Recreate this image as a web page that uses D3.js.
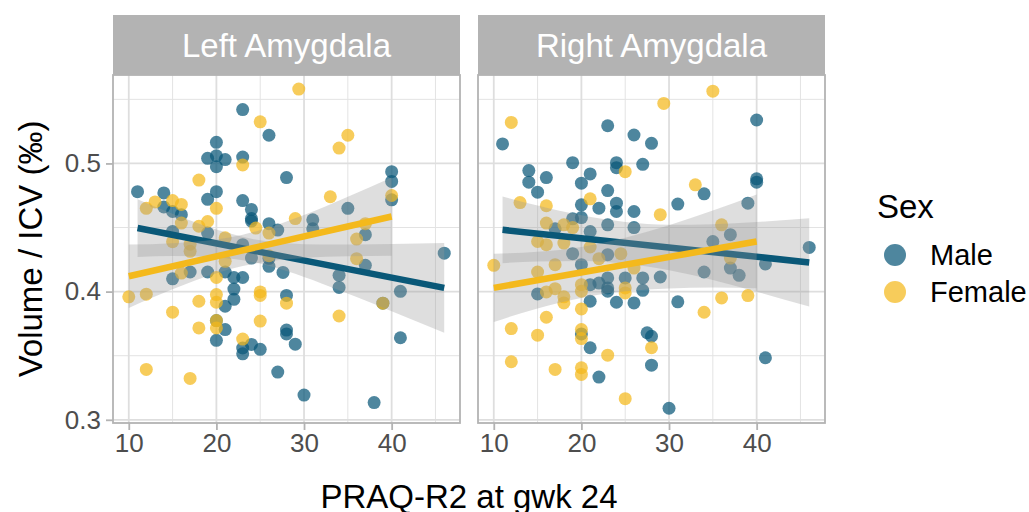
<!DOCTYPE html>
<html><head><meta charset="utf-8">
<script src="https://cdn.jsdelivr.net/npm/d3@7"></script>
<style>body{margin:0;background:#fff}svg{display:block;font-family:"Liberation Sans",Arial,sans-serif}</style>
</head><body><svg id="c" width="1029" height="512"></svg>
<script>
const panels = ["Left Amygdala", "Right Amygdala"];
const sexes = ["Male", "Female"];
const xTicks = [10, 20, 30, 40];
const xMinor = [15, 25, 35, 45];
const yTicks = [0.3, 0.4, 0.5];
const yMinor = [0.35, 0.45, 0.55];

const leftMale = [[23,0.542],[26,0.522],[20,0.5165],[19,0.504],[20,0.506],[21,0.503],[20,0.4975],[23,0.505],[28,0.489],[11,0.478],[14,0.477],[20,0.478],[19,0.472],[23,0.471],[24,0.464],[24,0.457],[24,0.455],[26,0.453],[27,0.448],[14,0.466],[15,0.4625],[16,0.460],[15,0.447],[19,0.4457],[23,0.4366],[40,0.4936],[40,0.486],[40,0.4716],[35,0.465],[31,0.456],[31,0.449],[37,0.4444],[46,0.430],[15,0.410],[17,0.4153],[19,0.4153],[21,0.4153],[22,0.411],[23,0.411],[22,0.402],[22,0.394],[21,0.3886],[20,0.3774],[21,0.3704],[20,0.362],[23,0.356],[23,0.3515],[24,0.3588],[25,0.355],[27,0.3372],[24,0.4262],[26,0.4197],[27.6,0.415],[28,0.397],[28,0.370],[28,0.367],[29,0.359],[30,0.3193],[34,0.4127],[34,0.4033],[37,0.4205],[39,0.391],[41,0.4002],[41,0.364],[38,0.3134],[26,0.426]];
const leftFemale = [[25,0.5325],[23,0.4988],[18,0.487],[13,0.470],[15,0.471],[16,0.468],[12,0.465],[20,0.465],[16,0.4535],[19,0.4547],[18,0.451],[24.5,0.4496],[26,0.4457],[15,0.439],[21,0.442],[29.4,0.558],[35,0.522],[34,0.512],[33,0.474],[29,0.457],[40,0.475],[37,0.453],[36,0.441],[10,0.3959],[12,0.398],[15,0.384],[18,0.3925],[18,0.3717],[20,0.411],[20,0.3977],[20,0.3917],[20,0.3774],[20,0.3717],[23,0.363],[25,0.3998],[25,0.397],[25,0.377],[28,0.391],[12,0.3393],[17,0.3323],[16,0.4145],[17,0.4314],[17,0.437],[21,0.4236],[26,0.428],[36,0.4257],[34,0.381],[39,0.391]];
const rightMale = [[11,0.5152],[23,0.5294],[26,0.5222],[28,0.5157],[19,0.5006],[24,0.5006],[24,0.4967],[27,0.4993],[14,0.4944],[14,0.4854],[16,0.489],[21,0.4918],[20,0.4846],[15,0.4776],[23,0.4788],[20,0.4677],[22,0.4651],[24,0.469],[24,0.4625],[26,0.4625],[19,0.4568],[20,0.4578],[23,0.4521],[26,0.450],[17,0.449],[21,0.4469],[40,0.5339],[40,0.488],[40,0.4854],[34,0.4763],[31,0.4683],[39,0.469],[35,0.4391],[37,0.4444],[46,0.4345],[15,0.3982],[19,0.4296],[20,0.421],[23,0.4288],[21,0.4054],[22,0.4067],[23,0.4107],[23,0.4029],[23,0.4003],[25,0.4107],[27,0.4107],[27,0.401],[21,0.3925],[24,0.3917],[26,0.3912],[20,0.367],[21,0.3562],[22,0.3333],[27.5,0.3679],[28,0.3652],[28,0.3426],[29,0.4114],[31,0.392],[34,0.4153],[37,0.4184],[38,0.4127],[41,0.4216],[41,0.3484],[30,0.309]];
const rightFemale = [[12,0.532],[25,0.4936],[21,0.4724],[13,0.4695],[16,0.467],[16,0.4535],[18,0.4521],[19,0.450],[15,0.4391],[16,0.4366],[18,0.4379],[21,0.4348],[29.4,0.5468],[35,0.5564],[33,0.4833],[29,0.460],[36,0.4521],[10,0.4205],[12,0.3712],[12,0.3453],[15,0.4153],[15,0.366],[17,0.421],[16,0.3998],[17,0.4023],[18,0.3959],[18,0.3912],[16,0.380],[20,0.4054],[20,0.4003],[20,0.3865],[20,0.3704],[20,0.3634],[20,0.3406],[20,0.3354],[17,0.3393],[23,0.3504],[25,0.3165],[22,0.4257],[24.5,0.4296],[26,0.4184],[25,0.4029],[25,0.399],[28,0.3562],[34,0.3839],[36,0.3951],[39,0.3969],[37,0.4262]];

const leftMaleFit = [[11,0.4496],[46,0.4029]];
const leftFemaleFit = [[10,0.412],[40,0.4586]];
const rightMaleFit = [[11,0.4482],[46,0.4228]];
const rightFemaleFit = [[10,0.4029],[40,0.4391]];

const leftMaleBand = [[11,0.4271,0.4721],[15,0.4278,0.4608],[20,0.4267,0.4485],[24,0.4233,0.4413],[28,0.4160,0.4378],[32,0.4064,0.4368],[36,0.3958,0.4368],[40,0.3847,0.4371],[46,0.3679,0.4379]];
const leftFemaleBand = [[10,0.3873,0.4367],[15,0.4018,0.4378],[20,0.4143,0.4407],[23,0.4199,0.4444],[26,0.4236,0.4500],[30,0.4262,0.4598],[35,0.4275,0.4741],[40,0.4279,0.4891]];
const rightMaleBand = [[11,0.4222,0.4742],[15,0.4235,0.4671],[20,0.4239,0.4595],[25,0.4217,0.4543],[30,0.4166,0.4522],[35,0.4090,0.4526],[40,0.3999,0.4543],[46,0.3883,0.4573]];
const rightFemaleBand = [[10,0.3763,0.4295],[15,0.3869,0.4311],[20,0.3951,0.4349],[25,0.4002,0.4420],[30,0.4025,0.4517],[35,0.4032,0.4632],[40,0.4027,0.4757]];

const colors = {Male: "#0a5878", Female: "#f4b91c"};
const panelData = [
  {name: panels[0], pts: {Male: leftMale, Female: leftFemale}, fit: {Male: leftMaleFit, Female: leftFemaleFit}, band: {Male: leftMaleBand, Female: leftFemaleBand}},
  {name: panels[1], pts: {Male: rightMale, Female: rightFemale}, fit: {Male: rightMaleFit, Female: rightFemaleFit}, band: {Male: rightMaleBand, Female: rightFemaleBand}}
];

const svg = d3.select("#c");
const pTop = 75, pBottom = 423, pw = 347;
const lefts = [113, 478];
const y = d3.scaleLinear().domain([0.2975, 0.569]).range([pBottom, pTop]);
const FONT = "Liberation Sans, Arial, sans-serif";

panelData.forEach((p, i) => {
  const x0 = lefts[i];
  const x = d3.scaleLinear().domain([8.2, 47.8]).range([x0, x0 + pw]);
  const g = svg.append("g");
  g.append("rect").attr("x", x0).attr("y", 15).attr("width", pw).attr("height", pTop - 15).attr("fill", "#b3b3b3");
  g.append("text").attr("x", x0 + pw / 2).attr("y", 45).attr("dy", "0.35em").attr("text-anchor", "middle")
    .attr("fill", "#fff").attr("font-size", 33).text(p.name);
  g.append("g").selectAll("line").data(yMinor).join("line").attr("x1", x0).attr("x2", x0 + pw).attr("y1", d => y(d)).attr("y2", d => y(d)).attr("stroke", "#e3e3e3").attr("stroke-width", 1);
  g.append("g").selectAll("line").data(xMinor).join("line").attr("y1", pTop).attr("y2", pBottom).attr("x1", d => x(d)).attr("x2", d => x(d)).attr("stroke", "#e3e3e3").attr("stroke-width", 1);
  g.append("g").selectAll("line").data(yTicks).join("line").attr("x1", x0).attr("x2", x0 + pw).attr("y1", d => y(d)).attr("y2", d => y(d)).attr("stroke", "#dedede").attr("stroke-width", 1.8);
  g.append("g").selectAll("line").data(xTicks).join("line").attr("y1", pTop).attr("y2", pBottom).attr("x1", d => x(d)).attr("x2", d => x(d)).attr("stroke", "#dedede").attr("stroke-width", 1.8);
  sexes.forEach(s => {
    g.append("g").selectAll("circle").data(p.pts[s]).join("circle")
      .attr("cx", d => x(d[0])).attr("cy", d => y(d[1])).attr("r", 6.5)
      .attr("fill", colors[s]).attr("fill-opacity", 0.72);
  });
  sexes.forEach(s => {
    const area = d3.area().x(d => x(d[0])).y0(d => y(d[1])).y1(d => y(d[2])).curve(d3.curveMonotoneX);
    g.append("path").attr("d", area(p.band[s])).attr("fill", "#999999").attr("fill-opacity", 0.32);
    const line = d3.line().x(d => x(d[0])).y(d => y(d[1]));
    g.append("path").attr("d", line(p.fit[s])).attr("stroke", colors[s]).attr("stroke-width", 6.5).attr("fill", "none");
  });
  g.append("rect").attr("x", x0).attr("y", pTop).attr("width", pw).attr("height", pBottom - pTop)
    .attr("fill", "none").attr("stroke", "#b3b3b3").attr("stroke-width", 1.8);
  const ax = g.append("g").attr("transform", `translate(0,${pBottom})`)
    .call(d3.axisBottom(x).tickValues(xTicks).tickSize(7).tickPadding(4).tickFormat(d3.format("d")));
  ax.select(".domain").remove();
  ax.selectAll("line").attr("stroke", "#b3b3b3").attr("stroke-width", 1.8);
  ax.selectAll("text").attr("fill", "#4d4d4d").attr("font-size", 26).attr("font-family", FONT);
  if (i === 0) {
    const ay = g.append("g").attr("transform", `translate(${x0},0)`)
      .call(d3.axisLeft(y).tickValues(yTicks).tickSize(7).tickPadding(5).tickFormat(d3.format(".1f")));
    ay.select(".domain").remove();
    ay.selectAll("line").attr("stroke", "#b3b3b3").attr("stroke-width", 1.8);
    ay.selectAll("text").attr("fill", "#4d4d4d").attr("font-size", 26).attr("font-family", FONT);
  }
});

svg.append("text").attr("x", 469).attr("y", 496).attr("dy", "0.35em").attr("text-anchor", "middle")
  .attr("font-size", 33).attr("fill", "#000").text("PRAQ-R2 at gwk 24");
svg.append("text").attr("transform", `translate(30,${(pTop + pBottom) / 2}) rotate(-90)`).attr("dy", "0.35em")
  .attr("text-anchor", "middle").attr("font-size", 33).attr("fill", "#000").text("Volume / ICV (‰)");

const lg = svg.append("g");
lg.append("text").attr("x", 877).attr("y", 206).attr("dy", "0.35em").attr("font-size", 33).attr("fill", "#000").text("Sex");
sexes.forEach((s, k) => {
  const cy = 255 + k * 37;
  lg.append("circle").attr("cx", 895).attr("cy", cy).attr("r", 11).attr("fill", colors[s]).attr("fill-opacity", 0.72);
  lg.append("text").attr("x", 930).attr("y", cy).attr("dy", "0.35em").attr("font-size", 29).attr("fill", "#000").text(s);
});
</script></body></html>
